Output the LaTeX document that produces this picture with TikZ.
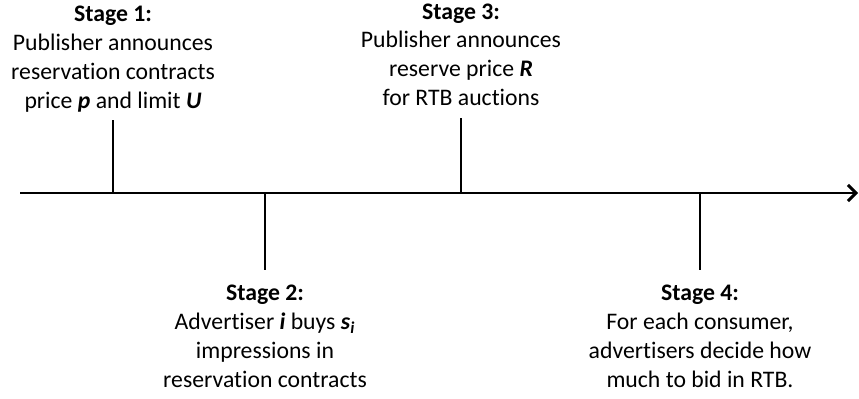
\documentclass[tikz,border=0pt]{standalone}
\usepackage{fontspec}
\setmainfont[Ligatures={NoCommon}]{Carlito}
\usetikzlibrary{positioning, arrows.meta}

\newcommand{\stagetext}{\fontsize{13.5}{16.4}\selectfont}
\newcommand{\bvar}[1]{\textbf{\textit{#1}}}

\begin{document}
\begin{tikzpicture}[
	stage/.style={align=center, inner sep=0pt, font=\stagetext},
	tick/.style={line width=1.1pt}
	]
	\useasboundingbox (0,0) rectangle (17.18,7.96);
	
	% time line
	\coordinate (start) at (0.4,4.1);
	\coordinate (end) at (17.16,4.1);
	\draw [line width=1.7pt, -{Straight Barb[length=1.6mm, width=3.2mm, line width=1.7pt]}] (start) -- (end);
	
	% points on the line
	\coordinate (t1) at (2.26,4.1);
	\coordinate (t2) at (5.3,4.1);
	\coordinate (t3) at (9.22,4.1);
	\coordinate (t4) at (14.0,4.1);
	
	% tick ends
	\coordinate (e1) at (2.26,5.56);
	\coordinate (e2) at (5.3,2.56);
	\coordinate (e3) at (9.22,5.6);
	\coordinate (e4) at (14.0,2.56);
	
	\node [stage, above=0.15cm of e1] (s1) {\textbf{Stage 1:}\\Publisher announces\\reservation contracts\\price \bvar{p} and limit \bvar{U}};
	\node [stage, below=0.3cm of e2] (s2) {\textbf{Stage 2:}\\Advertiser \bvar{i} buys \bvar{s}\textsubscript{\bvar{i}}\\impressions in\\reservation contracts};
	\node [stage, above=0.24cm of e3] (s3) {\textbf{Stage 3:}\\Publisher announces\\reserve price \bvar{R}\\for RTB auctions};
	\node [stage, below=0.3cm of e4] (s4) {\textbf{Stage 4:}\\For each consumer,\\advertisers decide how\\much to bid in RTB.};
	
	\draw [tick] (t1) -- (e1);
	\draw [tick] (t2) -- (e2);
	\draw [tick] (t3) -- (e3);
	\draw [tick] (t4) -- (e4);
\end{tikzpicture}
\end{document}
